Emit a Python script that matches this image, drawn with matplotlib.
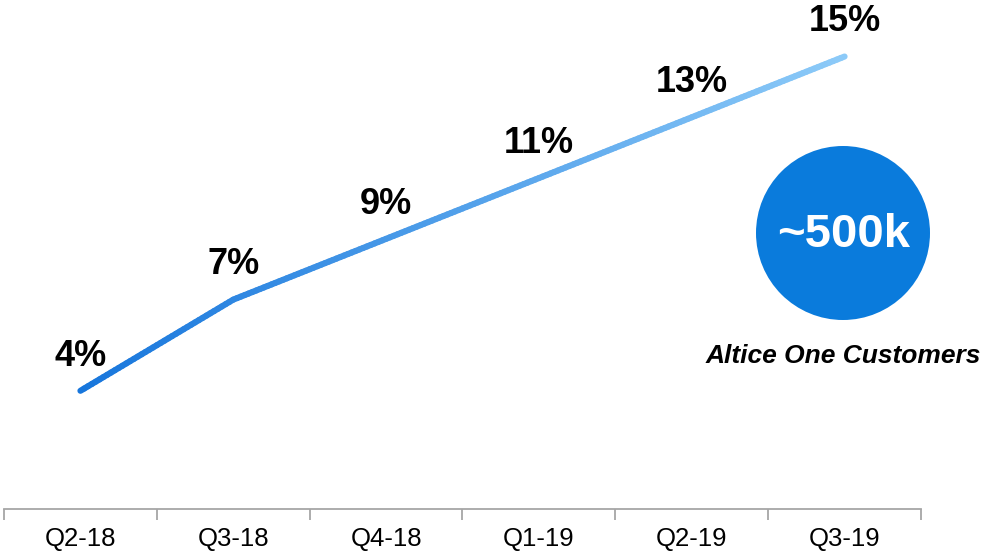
import numpy as np
import matplotlib
matplotlib.use("Agg")
import matplotlib.pyplot as plt
from matplotlib.collections import LineCollection
from matplotlib.colors import LinearSegmentedColormap
from matplotlib.patches import Circle

plt.rcParams['font.family'] = ['Liberation Sans', 'DejaVu Sans']

quarters = ["Q2-18", "Q3-18", "Q4-18", "Q1-19", "Q2-19", "Q3-19"]
share = [4, 7, 9, 11, 13, 15]
share_labels = ["4%", "7%", "9%", "11%", "13%", "15%"]
customers_label = "~500k"
customers_caption = "Altice One Customers"

fig = plt.figure(figsize=(9.84, 5.53), dpi=100)
ax = fig.add_axes([4 / 984, 44 / 553, 917 / 984, 509 / 553])
ax.set_xlim(-0.5, 5.5)
ax.set_ylim(0.11, 16.86)

# gradient line: split each segment into short pieces so colour can ramp
x = np.arange(len(quarters))
y = np.array(share, dtype=float)
pts = []
for i in range(len(x) - 1):
    t = np.linspace(0, 1, 40, endpoint=False)
    pts.append(np.column_stack([x[i] + t * (x[i + 1] - x[i]), y[i] + t * (y[i + 1] - y[i])]))
pts.append(np.array([[x[-1], y[-1]]]))
pts = np.vstack(pts)
segs = np.stack([pts[:-1], pts[1:]], axis=1)
cmap = LinearSegmentedColormap.from_list("blues", ["#1776dc", "#8ccaf8"])
lc = LineCollection(segs, cmap=cmap, linewidths=4.4, capstyle="round", joinstyle="round")
lc.set_array(np.linspace(0, 1, len(segs)))
ax.add_collection(lc)

for xi, yi, lab in zip(x, y, share_labels):
    ax.annotate(lab, (xi, yi), xytext=(0, 25), textcoords="offset points",
                ha="center", va="center", fontsize=26, fontweight="bold", color="black")

# category axis with ticks between quarters
for side in ["top", "right", "left"]:
    ax.spines[side].set_visible(False)
ax.spines["bottom"].set_color("#a6a6a6")
ax.spines["bottom"].set_linewidth(1.3)
ax.set_yticks([])
ax.set_xticks(x)
ax.set_xticklabels(quarters, fontsize=18.5, color="black")
ax.tick_params(axis="x", which="major", length=0, pad=13)
ax.set_xticks(np.arange(-0.5, 6.0, 1.0), minor=True)
ax.tick_params(axis="x", which="minor", length=8, width=1.3, color="#a6a6a6")

# customer count bubble
bubble = Circle((8.43, 3.20), 0.87, transform=fig.dpi_scale_trans,
                facecolor="#0a7bdc", edgecolor="none")
fig.add_artist(bubble)
fig.text(844 / 984, 1 - 235 / 553, customers_label, ha="center", va="center",
         fontsize=34, fontweight="bold", color="white")
fig.text(843 / 984, 1 - 356 / 553, customers_caption, ha="center", va="center",
         fontsize=19, fontweight="bold", fontstyle="italic", color="black")

fig.savefig("out.png", dpi=100)
